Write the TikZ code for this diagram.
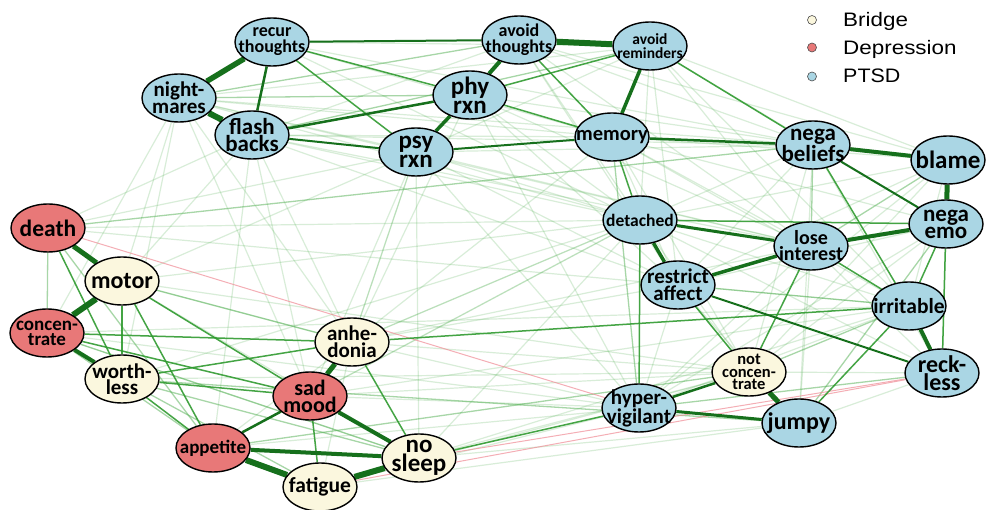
\documentclass[tikz,border=0pt]{standalone}
\usepackage{fontspec}
\usepackage{graphicx}
\setmainfont{Carlito}
\newfontfamily\legfont{Liberation Sans}
\usetikzlibrary{shapes.geometric,backgrounds}
\definecolor{ptsd}{RGB}{170,214,228}
\definecolor{dep}{RGB}{232,120,120}
\definecolor{brg}{RGB}{251,247,222}
\definecolor{dg}{RGB}{22,112,28}
\definecolor{mg}{RGB}{48,155,48}
\definecolor{lg}{RGB}{80,175,80}
\definecolor{ng}{RGB}{240,140,150}
\newcommand\nodeE[6]{\node[#2] (#1) at (#3) {};\node[lab={#4}{#5}] (#1t) at (#1) {#6};}
\begin{document}
\begin{tikzpicture}[x=1pt,y=-1pt,
  nd/.style={ellipse,draw=black,line width=1.4pt,minimum width=74pt,minimum height=48pt,inner sep=0pt},
  pt/.style={nd,fill=ptsd},
  dp/.style={nd,fill=dep},
  br/.style={nd,fill=brg},
  lab/.style 2 args={inner sep=0pt,align=center,font=\bfseries\fontsize{#1}{#2}\selectfont},
  ft/.style={draw=lg,opacity=0.22,line width=1.2pt},
  lt/.style={draw=lg,opacity=0.5,line width=1.3pt},
  md/.style={draw=mg,opacity=0.9,line width=1.5pt},
  sg/.style={draw=dg,line width=#1},
  neg/.style={draw=ng,opacity=0.7,line width=1pt},
  legdot/.style={circle,draw=black!70,line width=0.6pt,minimum size=9pt,inner sep=0pt},
  legtxt/.style={anchor=base west,inner sep=0pt,font=\legfont\fontsize{19.5}{19.5}\selectfont}]
\useasboundingbox (0,0) rectangle (989,510);
% nodes
\nodeE{rec}{pt}{272,42}{18}{16}{recur\\thoughts}
\nodeE{avt}{pt}{519,40}{18}{16}{avoid\\thoughts}
\nodeE{avr}{pt}{650,46}{15.5}{13.5}{avoid\\reminders}
\nodeE{phy}{pt}{470,95}{25}{19}{phy\\rxn}
\nodeE{nm}{pt}{179,98}{21}{17}{night-\\mares}
\nodeE{fb}{pt}{252,135}{23}{17.5}{flash\\backs}
\nodeE{psy}{pt}{416,152}{25}{19}{psy\\rxn}
\nodeE{mem}{pt}{612,137}{20.5}{20.5}{memory}
\nodeE{nb}{pt}{813,145}{23}{17}{nega\\beliefs}
\nodeE{bl}{pt}{948,160}{25}{25}{blame}
\nodeE{det}{pt}{640,220}{17.5}{17.5}{detached}
\nodeE{ne}{pt}{946,224}{23}{17}{nega\\emo}
\nodeE{li}{pt}{811,246}{20}{16}{lose\\interest}
\nodeE{ra}{pt}{678,285}{21}{17}{restrict\\affect}
\nodeE{irr}{pt}{909,306}{21.5}{21.5}{irritable}
\nodeE{rk}{pt}{942,373}{24}{17}{reck-\\less}
\nodeE{nc}{br}{749,372}{16.5}{12.5}{not\\concen-\\trate}
\nodeE{hv}{pt}{639,408}{21}{15.5}{hyper-\\vigilant}
\nodeE{jp}{pt}{799,423}{24}{24}{jumpy}
\nodeE{dth}{dp}{48,228}{23.5}{23.5}{death}
\nodeE{mot}{br}{122,281}{24}{24}{motor}
\nodeE{con}{dp}{47,333}{19}{15}{concen-\\trate}
\nodeE{wl}{br}{122,379}{21}{16}{worth-\\less}
\nodeE{anh}{br}{352,342}{21}{17}{anhe-\\donia}
\nodeE{sad}{dp}{310,396}{22}{17}{sad\\mood}
\nodeE{app}{dp}{213,448}{19}{19}{appetite}
\nodeE{ns}{br}{419,458}{25}{19}{no\\sleep}
\nodeE{fat}{br}{320,487}{21.5}{21.5}{fatigue}
% legend
\node[legdot,fill=brg] (lg1) at (812,20) {};
\node[legdot,fill=dep] (lg2) at (812,47.5) {};
\node[legdot,fill=ptsd] (lg3) at (812,76.5) {};
\node[legtxt] (lg1t) at (843,27) {\scalebox{1.15}[1]{Bridge}};
\node[legtxt] (lg2t) at (843,55) {\scalebox{1.15}[1]{Depression}};
\node[legtxt] (lg3t) at (843,83) {\scalebox{1.1}[1]{PTSD}};
\begin{scope}[on background layer]
\fill[white] (0,0) rectangle (989,510);
% faint edges
\foreach \a/\b in {nm/mem,nm/psy,nm/avr,nm/nb,nm/det,nm/li,nm/anh,nm/mot,nm/sad,nm/wl,nm/con,
  fb/mem,fb/avt,fb/nb,fb/det,fb/li,fb/ra,fb/anh,fb/sad,fb/mot,fb/dth,fb/app,
  rec/mem,rec/avr,rec/nb,rec/det,
  psy/avr,psy/avt,psy/nb,psy/det,psy/li,psy/ra,psy/anh,psy/ns,psy/hv,psy/sad,
  phy/nb,phy/det,phy/li,phy/ra,phy/hv,phy/anh,
  avt/nb,avt/det,avt/ra,avt/li,avt/bl,
  avr/det,avr/li,avr/ra,avr/bl,avr/ne,avr/irr,
  mem/li,mem/ra,mem/nc,mem/ne,mem/bl,mem/irr,mem/anh,
  nb/det,nb/ra,nb/nc,nb/jp,nb/rk,
  bl/det,bl/ra,bl/irr,bl/nc,bl/hv,bl/rk,
  ne/ra,ne/nc,ne/hv,
  det/nc,det/irr,det/rk,det/anh,det/sad,
  li/hv,li/jp,li/rk,
  ra/nc,ra/jp,ra/hv,
  irr/hv,rk/nc,rk/jp,
  dth/det,dth/psy,dth/irr,
  mot/det,mot/psy,mot/anh,mot/ns,mot/nc,
  con/ns,con/hv,con/irr,
  wl/nc,wl/det,
  anh/det,anh/li,anh/fat,anh/app,anh/hv,anh/nc,anh/ra,anh/psy,
  sad/hv,sad/nc,sad/det,sad/irr,
  app/hv,ns/nc,ns/jp,ns/irr,ns/det,
  fat/hv,fat/jp,fat/nc}
  \draw[ft] (\a) -- (\b);
% light edges
\foreach \a/\b in {dth/con,dth/nb,wl/ns,wl/fat,con/app,mem/hv,nm/phy,fb/avr,nm/avt,
  ra/irr,li/bl,nb/li,jp/ne,hv/rk,nc/irr,mot/anh,con/ns,dth/app,wl/jp,app/nc}
  \draw[lt] (\a) -- (\b);
% negative edges
\foreach \a/\b in {dth/hv,ns/rk,fat/rk}
  \draw[neg] (\a) -- (\b);
% medium edges
\foreach \a/\b in {rec/psy,rec/phy,avt/mem,avr/nb,mem/det,nb/irr,li/irr,li/nc,det/ne,hv/ns,
  det/hv,dth/wl,mot/wl,mot/app,mot/sad,con/anh,con/sad,wl/sad,wl/anh,wl/app,anh/ns,sad/fat,
  anh/irr,phy/mem,phy/avr,ne/irr,ne/rk,jp/irr,ra/nc}
  \draw[md] (\a) -- (\b);
% strong edges
\foreach \a/\b/\w in {rec/nm/5.5,nm/fb/6,rec/fb/2.5,avt/avr/6,avt/phy/4,phy/psy/3.5,
  avr/mem/3.5,mem/nb/2.5,nb/bl/4,bl/ne/5,ne/li/4,det/li/3,det/ra/3.5,ra/li/3.5,
  irr/rk/4,nc/jp/5,hv/jp/3,dth/mot/5,mot/con/6,con/wl/4,anh/sad/5,sad/ns/4,
  sad/app/2.5,app/fat/6,app/ns/4,fat/ns/6,fb/phy/2.5,fb/psy/2,rec/avt/2,ra/rk/2,
  nb/ne/2,psy/mem/2,hv/nc/2.5}
  \draw[sg=\w pt] (\a) -- (\b);
\end{scope}
\end{tikzpicture}
\end{document}
